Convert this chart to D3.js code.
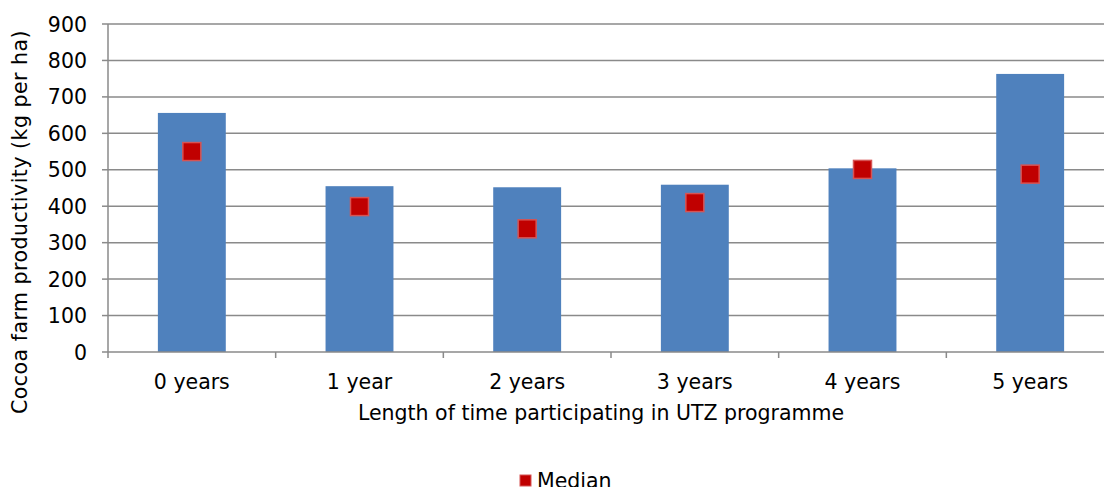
<!DOCTYPE html>
<html>
<head>
<meta charset="utf-8">
<script src="https://cdn.jsdelivr.net/npm/d3@7"></script>
<style>
  body { margin: 0; background: #fff; }
  text { font-family: "DejaVu Sans", Verdana, sans-serif; fill: #000; }
</style>
</head>
<body>
<svg id="chart" width="1104" height="487"></svg>
<script>
var categories = ["0 years", "1 year", "2 years", "3 years", "4 years", "5 years"];
var meanValues = [656, 455, 452, 459, 504, 763];
var medianValues = [550, 399, 338, 410, 501, 488];
var yTicks = [0, 100, 200, 300, 400, 500, 600, 700, 800, 900];

var svg = d3.select("#chart");
// plot runs slightly past the right edge of the picture, as in the original
var plotL = 108, plotR = 1114, plotT = 24, plotB = 352;
var FONT = "20.5px";

var x = d3.scaleBand().domain(categories).range([plotL, plotR]);
var y = d3.scaleLinear().domain([0, 900]).range([plotB, plotT]);
var barW = x.bandwidth() * 0.405;

// gridlines
svg.append("g").selectAll("line")
    .data(yTicks.slice(1))
    .join("line")
    .attr("x1", plotL).attr("x2", plotR)
    .attr("y1", d => y(d)).attr("y2", d => y(d))
    .attr("stroke", "#8a8a8a").attr("stroke-width", 1.5);

// bars
svg.append("g").selectAll("rect")
    .data(meanValues)
    .join("rect")
    .attr("x", (d, i) => x(categories[i]) + x.bandwidth() / 2 - barW / 2)
    .attr("y", d => y(d))
    .attr("width", barW)
    .attr("height", d => plotB - y(d))
    .attr("fill", "#4f81bd");

// axis lines
svg.append("line").attr("x1", plotL).attr("x2", plotL).attr("y1", plotT).attr("y2", plotB)
    .attr("stroke", "#8a8a8a").attr("stroke-width", 1.5);
svg.append("line").attr("x1", plotL).attr("x2", plotR).attr("y1", plotB).attr("y2", plotB)
    .attr("stroke", "#8a8a8a").attr("stroke-width", 1.5);

// y ticks
var gy = svg.append("g");
gy.selectAll("line").data(yTicks).join("line")
    .attr("x1", plotL - 6).attr("x2", plotL)
    .attr("y1", d => y(d)).attr("y2", d => y(d))
    .attr("stroke", "#8a8a8a").attr("stroke-width", 1.5);
gy.selectAll("text").data(yTicks).join("text")
    .attr("x", 87).attr("y", d => y(d) + 7.5)
    .attr("text-anchor", "end")
    .style("font-size", FONT)
    .text(d => d);

// x ticks at category boundaries
var bounds = categories.map(c => x(c)).concat([plotR]);
svg.append("g").selectAll("line").data(bounds).join("line")
    .attr("x1", d => d).attr("x2", d => d)
    .attr("y1", plotB).attr("y2", plotB + 6)
    .attr("stroke", "#8a8a8a").attr("stroke-width", 1.5);

svg.append("g").selectAll("text").data(categories).join("text")
    .attr("x", d => x(d) + x.bandwidth() / 2)
    .attr("y", 389)
    .attr("text-anchor", "middle")
    .style("font-size", FONT)
    .text(d => d);

// median markers
var ms = 18;
svg.append("g").selectAll("rect")
    .data(medianValues)
    .join("rect")
    .attr("x", (d, i) => x(categories[i]) + x.bandwidth() / 2 - ms / 2)
    .attr("y", d => y(d) - ms / 2)
    .attr("width", ms).attr("height", ms)
    .attr("fill", "#c00000")
    .attr("stroke", "#d65454").attr("stroke-width", 1.5);

// axis titles
svg.append("text")
    .attr("x", 601).attr("y", 420)
    .attr("text-anchor", "middle")
    .style("font-size", FONT)
    .text("Length of time participating in UTZ programme");

svg.append("text")
    .attr("transform", "translate(27,222) rotate(-90)")
    .attr("text-anchor", "middle")
    .style("font-size", FONT)
    .style("letter-spacing", "0.5px")
    .text("Cocoa farm productivity (kg per ha)");

// legend
svg.append("rect").attr("x", 520).attr("y", 475).attr("width", 11).attr("height", 11)
    .attr("fill", "#c00000").attr("stroke", "#d65454").attr("stroke-width", 1);
svg.append("text").attr("x", 537).attr("y", 488)
    .style("font-size", FONT)
    .text("Median");
</script>
</body>
</html>
